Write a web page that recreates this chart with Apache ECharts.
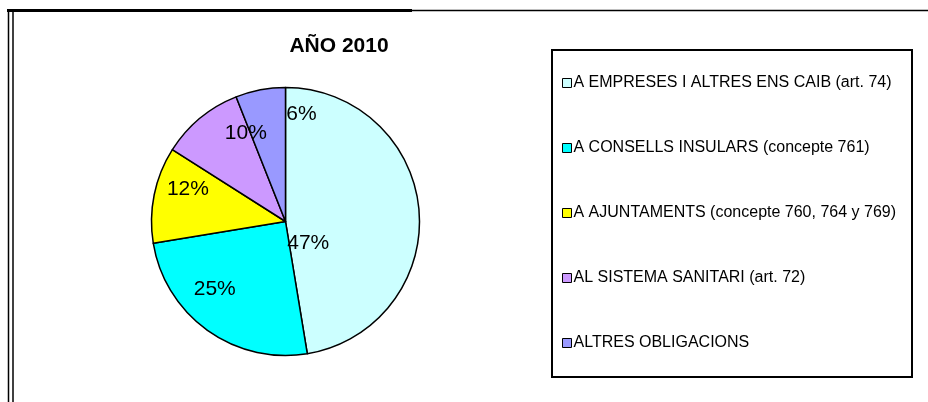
<!DOCTYPE html>
<html>
<head>
<meta charset="utf-8">
<script src="https://cdn.jsdelivr.net/npm/echarts@6/dist/echarts.min.js"></script>
<style>
  html, body { margin: 0; padding: 0; background: #fff; }
  #chart { width: 928px; height: 402px; }
</style>
</head>
<body>
<div id="chart"></div>
<script>
const titleText = 'AÑO 2010'
const categories = [
  'A EMPRESES I ALTRES ENS CAIB (art. 74)',
  'A CONSELLS INSULARS (concepte 761)',
  'A AJUNTAMENTS (concepte 760, 764 y 769)',
  'AL SISTEMA SANITARI (art. 72)',
  'ALTRES OBLIGACIONS'
]
const shares = [47.4, 25.0, 11.6, 10.0, 6.0]
const sliceColors = ['#CCFFFF', '#00FFFF', '#FFFF00', '#CC99FF', '#9999FF']

// label nudges (Excel puts them in its own spots)
const labelShift = [[-47, 27], [-30, 11], [-29, -18], [5, -34], [29, -39]]

const font = "'Liberation Sans', Arial, sans-serif"
const chart = echarts.init(document.getElementById('chart'), null, { renderer: 'canvas' })

const option = {
  animation: false,
  backgroundColor: '#fff',
  title: {
    text: titleText,
    left: 334,
    top: 31,
    textAlign: 'center',
    textStyle: { fontFamily: font, fontSize: 21, fontWeight: 'bold', color: '#000' }
  },
  legend: {
    orient: 'vertical',
    left: 562,
    top: 75,
    padding: 0,
    itemGap: 49,
    itemWidth: 9,
    itemHeight: 9,
    icon: 'rect',
    itemStyle: { borderColor: '#000', borderWidth: 1 },
    textStyle: { fontFamily: font, fontSize: 16, color: '#000', padding: [0, 0, 0, -3], lineHeight: 16 },
    data: categories
  },
  graphic: [
    { type: 'rect', shape: { x: 552, y: 50, width: 360, height: 327 }, style: { fill: 'none', stroke: '#000', lineWidth: 2 } },
    { type: 'line', shape: { x1: 7, y1: 10.5, x2: 412, y2: 10.5 }, style: { stroke: '#000', lineWidth: 3 } },
    { type: 'line', shape: { x1: 412, y1: 10.5, x2: 928, y2: 10.5 }, style: { stroke: '#000', lineWidth: 1.5 } },
    { type: 'line', shape: { x1: 8.5, y1: 9, x2: 8.5, y2: 402 }, style: { stroke: '#000', lineWidth: 1.5 } },
    { type: 'line', shape: { x1: 13, y1: 12, x2: 13, y2: 402 }, style: { stroke: '#000', lineWidth: 1.5 } }
  ],
  series: [{
    type: 'pie',
    center: [285.5, 221.5],
    radius: 134,
    startAngle: 90,
    clockwise: true,
    color: sliceColors,
    itemStyle: { borderColor: '#000', borderWidth: 1.5 },
    emphasis: { disabled: true },
    label: {
      position: 'inside',
      fontFamily: font,
      fontSize: 21,
      color: '#000',
      formatter: p => Math.round(p.percent) + '%'
    },
    labelLine: { show: false },
    labelLayout: p => ({ dx: labelShift[p.dataIndex][0], dy: labelShift[p.dataIndex][1] }),
    data: categories.map((name, i) => ({ name, value: shares[i] }))
  }]
}

chart.setOption(option)
</script>
</body>
</html>
